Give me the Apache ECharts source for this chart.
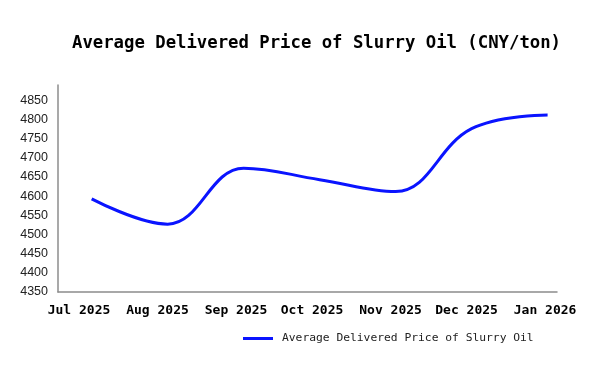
<!DOCTYPE html>
<html>
<head>
<meta charset="utf-8">
<script src="https://cdn.jsdelivr.net/npm/echarts@6/dist/echarts.min.js"></script>
<style>
html,body{margin:0;padding:0;background:#fff;}
#chart{width:600px;height:378px;}
</style>
</head>
<body>
<div id="chart"></div>
<script>
// Data
var seriesName = 'Average Delivered Price of Slurry Oil';
var titleText = 'Average Delivered Price of Slurry Oil (CNY/ton)';
var sampleDates = ['2025-07-06', '2025-08-05', '2025-09-04', '2025-10-04', '2025-11-03', '2025-12-03', '2026-01-02'];
var prices = [4593, 4527, 4673, 4643, 4612, 4776, 4812];
var monthTicks = ['2025-07-01', '2025-08-01', '2025-09-01', '2025-10-01', '2025-11-01', '2025-12-01', '2026-01-01'];
var monthNames = ['Jan','Feb','Mar','Apr','May','Jun','Jul','Aug','Sep','Oct','Nov','Dec'];
var yMin = 4350, yMax = 4890, yStep = 50;

function parseDay(s) {
  var p = s.split('-');
  return new Date(+p[0], +p[1] - 1, +p[2]).getTime();
}

var chart = echarts.init(document.getElementById('chart'));
var points = sampleDates.map(function (d, i) { return [parseDay(d), prices[i]]; });
var tickValues = monthTicks.map(parseDay);

chart.setOption({
  animation: false,
  backgroundColor: '#ffffff',
  title: {
    text: titleText,
    left: 72,
    top: 35,
    padding: 0,
    textStyle: {
      fontFamily: 'DejaVu Sans Mono',
      fontSize: 17.3,
      fontWeight: 'bold',
      color: '#000000'
    }
  },
  grid: { left: 58, right: 43, top: 85, bottom: 86, containLabel: false },
  xAxis: {
    type: 'value',
    min: new Date(2025, 5, 22, 17).getTime(),
    max: new Date(2026, 0, 5, 17).getTime(),
    axisLine: { show: true, lineStyle: { color: '#8c8c8c', width: 1.5 } },
    axisTick: { show: false },
    splitLine: { show: false },
    axisLabel: {
      customValues: tickValues,
      margin: 12,
      fontFamily: 'DejaVu Sans Mono',
      fontSize: 13,
      fontWeight: 'bold',
      color: '#000000',
      formatter: function (v) {
        var d = new Date(v);
        return monthNames[d.getMonth()] + ' ' + d.getFullYear();
      }
    }
  },
  yAxis: {
    type: 'value',
    min: yMin,
    max: yMax,
    interval: yStep,
    axisLine: { show: true, lineStyle: { color: '#8c8c8c', width: 1.5 } },
    axisTick: { show: false },
    splitLine: { show: false },
    axisLabel: {
      showMaxLabel: false,
      margin: 10,
      fontFamily: 'Liberation Sans',
      fontSize: 12.5,
      color: '#222222',
      formatter: function (v) { return String(v); }
    }
  },
  legend: {
    left: 243,
    top: 333,
    padding: 0,
    icon: 'rect',
    itemWidth: 30,
    itemHeight: 3,
    data: [seriesName],
    textStyle: {
      fontFamily: 'DejaVu Sans Mono',
      fontSize: 11.3,
      color: '#222222',
      padding: [0, 0, 0, 4]
    }
  },
  series: [{
    name: seriesName,
    type: 'line',
    data: points,
    smooth: 0.4,
    showSymbol: false,
    symbol: 'none',
    lineStyle: { color: '#0a14ff', width: 3 },
    itemStyle: { color: '#0a14ff' }
  }]
});
</script>
</body>
</html>
